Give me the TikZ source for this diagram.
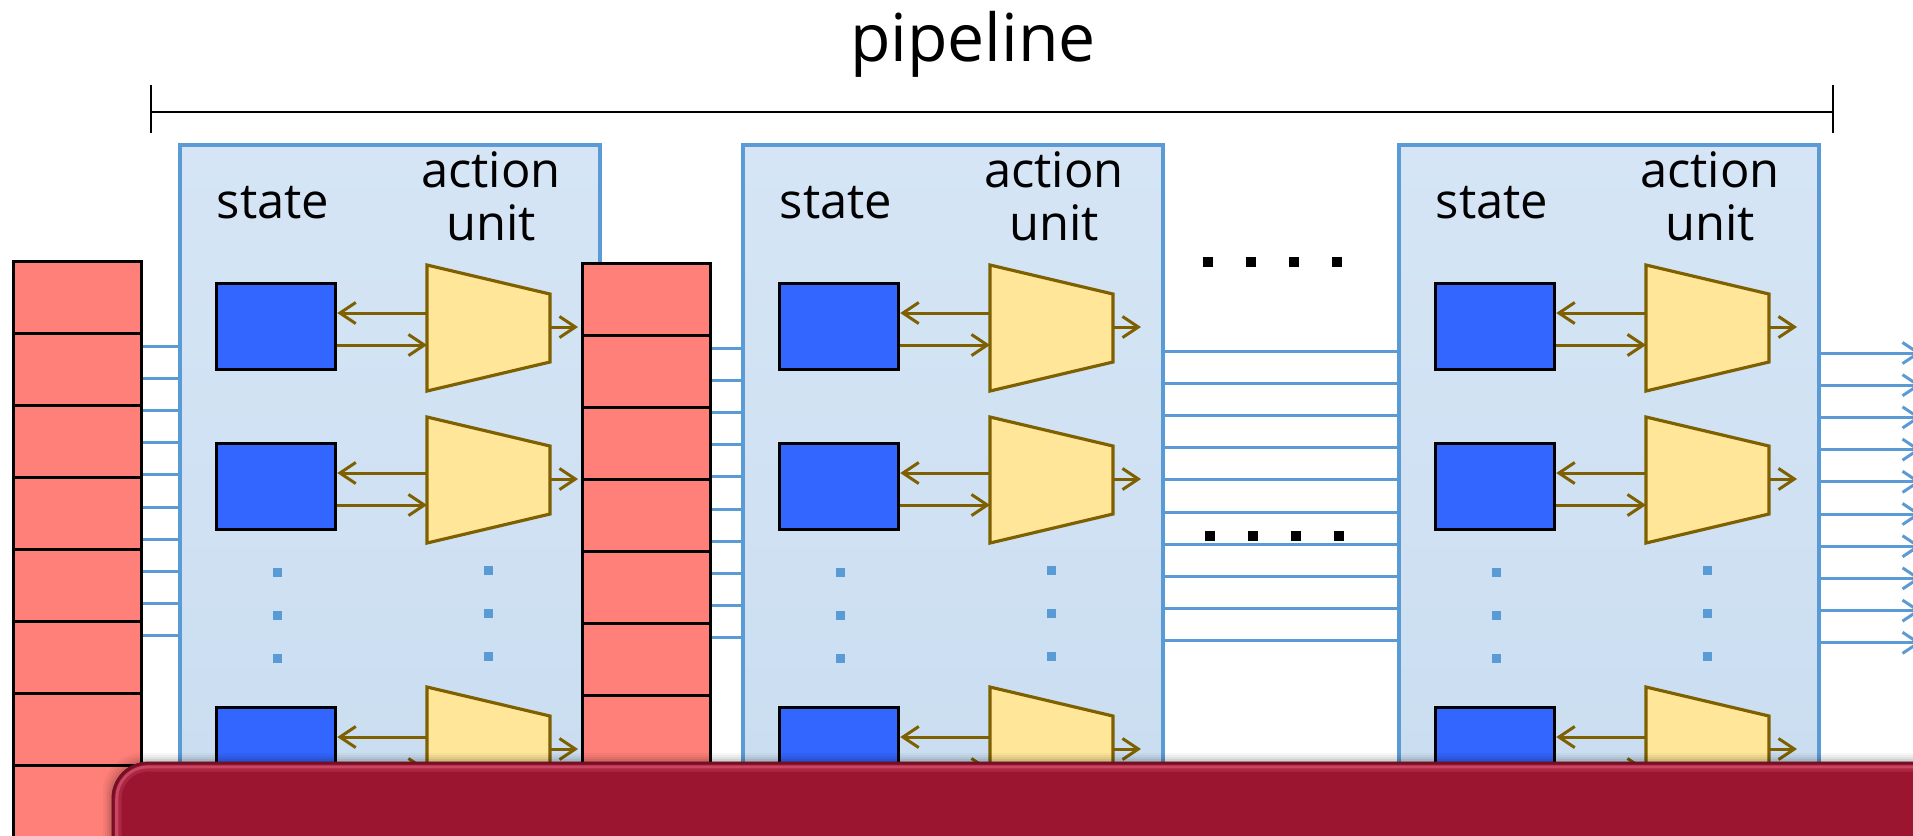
\documentclass[tikz,border=0pt]{standalone}
\usepackage{fontspec}
\setmainfont{Open Sans}
\usetikzlibrary{arrows.meta,calc}
\definecolor{stagetop}{HTML}{D5E5F5}
\definecolor{stagebot}{HTML}{C8DCF0}
\definecolor{wire}{HTML}{5B9BD5}
\definecolor{regfill}{HTML}{FF7F79}
\definecolor{statefill}{HTML}{3366FF}
\definecolor{alufill}{HTML}{FFE699}
\definecolor{aluline}{HTML}{7F6000}
\definecolor{barred}{HTML}{9B1530}
\definecolor{barhi}{HTML}{C84662}
\tikzset{
  stagebox/.style={draw=wire, line width=1.1pt, top color=stagetop, bottom color=stagebot,
    minimum width=4.2cm, minimum height=8cm, anchor=north west, inner sep=0},
  regcell/.style={draw=black, line width=0.8pt, fill=regfill,
    minimum width=1.28cm, minimum height=0.72cm, anchor=north west, inner sep=0},
  wireline/.style={draw=wire, line width=0.85pt},
  wirearrow/.style={wireline, -{Straight Barb[length=4.5pt,width=6pt]}},
  statebox/.style={draw=black, line width=0.9pt, fill=statefill,
    minimum width=1.19cm, minimum height=0.86cm, anchor=north west, inner sep=0},
  aluunit/.style={draw=aluline, line width=0.9pt, fill=alufill, line join=miter},
  aluarrow/.style={draw=aluline, line width=0.85pt, -{Straight Barb[length=4.5pt,width=6pt]}},
  lbl/.style={font=\fontsize{13.9}{16}\selectfont, anchor=base, inner sep=0},
  vdot/.style={fill=wire, minimum size=0.09cm, inner sep=0},
  hdot/.style={fill=black, minimum size=0.1cm, inner sep=0},
}
\begin{document}
\begin{tikzpicture}[x=0.01cm,y=-0.01cm]
\useasboundingbox (0,0) rectangle (1913,835);
\clip (0,0) rectangle (1913,835);

% title and span bracket
\node[font=\fontsize{18.8}{22}\selectfont, anchor=base, inner sep=0] (title) at (973,61) {pipeline};
\coordinate (bl) at (151,112);
\coordinate (br) at (1833,112);
\draw[line width=0.75pt] (bl) -- (br);
\draw[line width=0.45pt] ($(bl)+(0,-27)$) -- ($(bl)+(0,21)$);
\draw[line width=0.45pt] ($(br)+(0,-27)$) -- ($(br)+(0,21)$);

% stage frames
\foreach \s/\sx in {1/178, 2/741, 3/1397}
  \node[stagebox] (stage\s) at (\sx,143) {};

% register stacks
\foreach \k in {0,...,8} {
  \node[regcell] (inreg\k) at (12,260+72*\k) {};
  \node[regcell] (midreg\k) at (581,262+72*\k) {};
}

% buses between stages
\foreach \k in {0,...,9} {
  \coordinate (ya\k) at (0,346+32.2*\k);
  \coordinate (yb\k) at (0,348+32.2*\k);
  \coordinate (yc\k) at (0,351+32.2*\k);
  \coordinate (yd\k) at (0,353+32.2*\k);
  \coordinate (outend\k) at (1921,353+32.2*\k);
  \draw[wireline] (inreg0.east |- ya\k) -- (stage1.west |- ya\k);
  \draw[wireline] (midreg0.east |- yb\k) -- (stage2.west |- yb\k);
  \draw[wireline] (stage2.east |- yc\k) -- (stage3.west |- yc\k);
  \draw[wirearrow] (stage3.east |- yd\k) -- (outend\k);
}

% stage contents
\foreach \s/\sx in {1/178, 2/741, 3/1397} {
  \node[lbl] (statelbl\s) at (\sx+95,218) {state};
  \node[lbl] (actlbl\s) at (\sx+313,187) {action};
  \node[lbl] (unitlbl\s) at (\sx+313,240) {unit};
  \foreach \r/\bt/\tt in {1/282/265, 2/442/417, 3/706/687} {
    \node[statebox] (st\s\r) at (\sx+37,\bt) {};
    \draw[aluunit] (\sx+249,\tt) -- (\sx+372,\tt+29) -- (\sx+372,\tt+97)
      -- (\sx+249,\tt+126) -- cycle;
    \coordinate (aup\s\r) at (\sx+249,\bt+31);
    \coordinate (adn\s\r) at (\sx+249,\bt+63);
    \coordinate (aout\s\r) at (\sx+372,\tt+62);
    \coordinate (aend\s\r) at (\sx+400,\tt+62);
    \draw[aluarrow] (aup\s\r) -- (st\s\r.east |- aup\s\r);
    \draw[aluarrow] (st\s\r.east |- adn\s\r) -- (adn\s\r);
    \draw[aluarrow] (aout\s\r) -- (aend\s\r);
  }
  \foreach \j/\yy in {1/572, 2/615, 3/658} {
    \node[vdot] (sdot\s\j) at (\sx+99,\yy) {};
    \node[vdot] (udot\s\j) at (\sx+310,\yy-2) {};
  }
}

% ellipsis between stages
\foreach \j/\xx in {1/1208, 2/1251, 3/1294, 4/1337} {
  \node[hdot] (topdot\j) at (\xx,262) {};
  \node[hdot] (lowdot\j) at (\xx+2,536) {};
}

% slide bar with soft shadow
\foreach \o/\a in {9/0.03, 7/0.04, 5/0.05, 3/0.07, 1/0.09}
  \fill[black, opacity=\a, rounded corners=11pt]
    (112-\o,960) -- (112-\o,762-\o) -- (2100,762-\o) -- (2100,960) -- cycle;
\fill[barred, rounded corners=10pt] (112,960) -- (112,762) -- (2100,762) -- (2100,960) -- cycle;
\draw[barred!75!black, line width=0.8pt, rounded corners=10pt] (113,960) -- (113,763) -- (2100,763);
\draw[barhi, line width=1pt, rounded corners=9pt] (117,960) -- (117,767) -- (2100,767);
\draw[barhi!35!barred, line width=0.9pt, rounded corners=8pt] (120,960) -- (120,770) -- (2100,770);
\end{tikzpicture}
\end{document}
